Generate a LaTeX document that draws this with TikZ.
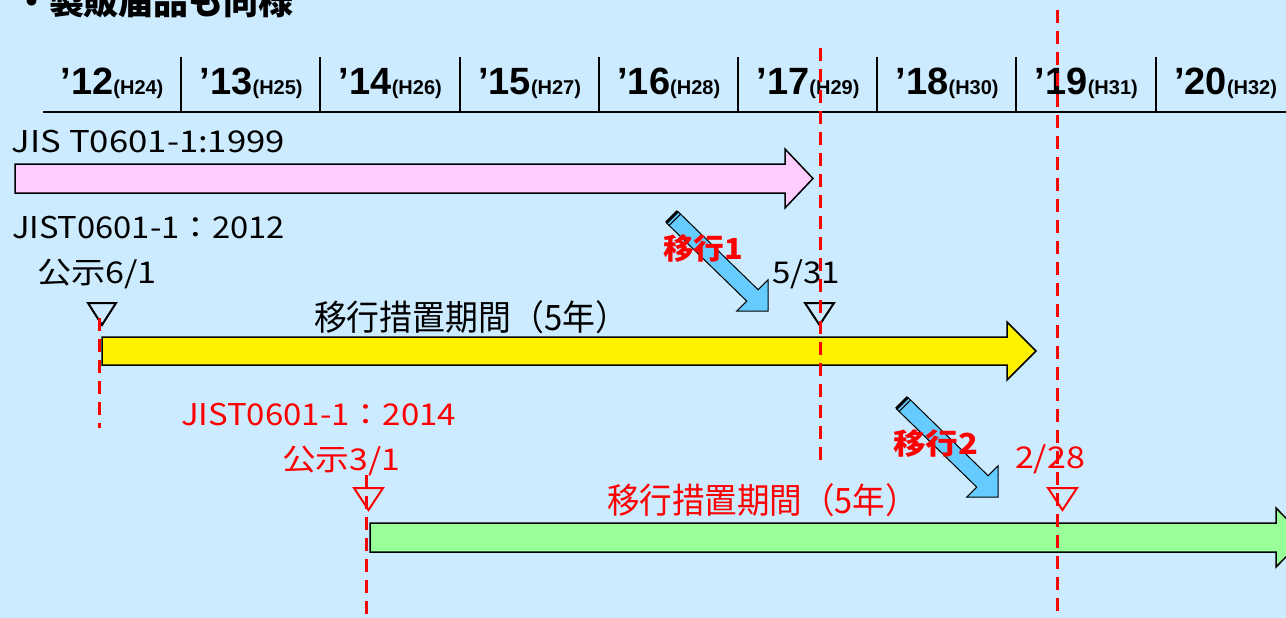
\documentclass[tikz,border=0pt]{standalone}
\usepackage{fontspec}
\usepackage{graphicx}
\setmainfont{Liberation Sans}
\newfontfamily\jp{Noto Sans CJK JP}
\usetikzlibrary{calc}
\definecolor{bgblue}{RGB}{204,235,255}
\definecolor{pinkfill}{RGB}{255,204,255}
\definecolor{greenfill}{RGB}{153,255,153}
\definecolor{arrowblue}{RGB}{102,204,255}
\definecolor{redtxt}{RGB}{255,0,0}
\newcommand{\fitw}[2]{\resizebox{#1}{\height}{#2}}
\newcommand{\fs}[1]{\fontsize{#1}{#1}\selectfont}
\tikzset{
  lbl/.style={inner sep=0pt, outer sep=0pt, anchor=base west},
  bar/.style={draw=black, line width=1.5pt, line join=miter},
  rdash/.style={draw=redtxt, line width=3pt, dash pattern=on 13pt off 8pt},
  tri/.style={line width=2pt, line join=miter},
  hdr/.style={line width=2pt},
  migarrow/.pic={
    \path[draw=black, line width=1pt, fill=arrowblue, line join=miter]
      (5.7,-5.7) -- (86.1,72.7) -- (96,62.8) -- (96,94) -- (64.8,94)
      -- (74.7,84.1) -- (-5.7,5.7) -- cycle;
    \draw[line width=3pt] (5.7,-5.7) -- (-5.7,5.7);
    \draw[line width=1pt] (8.5,-2.9) -- (-2.9,8.5);
  }
}
\begin{document}
\begin{tikzpicture}[x=1pt, y=-1pt]
\fill[bgblue] (0,0) rectangle (1286,618);
\begin{scope}
\clip (0,0) rectangle (1286,618);
% title (cut at top)
\node[lbl] (title) at (14,14.5) {\jp\bfseries\fs{35}・製販届品も同様};
% header
\draw[hdr] (43,112) -- (1290,112);
\foreach \i in {1,...,8} {
  \coordinate (sepT\i) at ({42+139.2*\i},57);
  \coordinate (sepB\i) at ({42+139.2*\i},112);
  \draw[hdr] (sepT\i) -- (sepB\i);
}
\foreach \i in {0,...,8} {
  \pgfmathtruncatemacro\yr{12+\i}
  \pgfmathtruncatemacro\hs{24+\i}
  \node[inner sep=0pt, anchor=base] (yr\i) at ({112+139.2*\i},95)
    {\bfseries\fs{38}’\yr\fs{20}(H\hs)};
}
% bars
\path[bar, fill=pinkfill] (15,164) -- (785,164) -- (785,149) -- (813,178.5)
  -- (785,208) -- (785,193) -- (15,193) -- cycle;
\path[bar, fill=yellow] (102,337) -- (1007,337) -- (1007,322) -- (1036,351)
  -- (1007,380) -- (1007,365) -- (102,365) -- cycle;
\path[bar, fill=greenfill] (370,523) -- (1276,523) -- (1276,508) -- (1305,537.5)
  -- (1276,567) -- (1276,552) -- (370,552) -- cycle;
% migration arrows
\pic at (672,217) {migarrow};
\pic at (902,403) {migarrow};
% triangles
\draw[tri] (88,303) -- (116,303) -- (102,325) -- cycle;
\draw[tri] (805,303) -- (834,303) -- (819.5,325) -- cycle;
\draw[tri, redtxt] (354,488) -- (383,488) -- (368.5,510) -- cycle;
\draw[tri, redtxt] (1048,488) -- (1077,488) -- (1062.5,510) -- cycle;
% texts
\node[lbl] (std1999) at (12,152) {\fitw{273pt}{\jp\fs{30}JIS T0601-1:1999}};
\node[lbl] (std2012) at (12,238) {\fitw{273pt}{\jp\fs{30}JIST0601-1：2012}};
\node[lbl] (pub1) at (37,283) {\fitw{120pt}{\jp\fs{30}公示6/1}};
\node[lbl] (end1) at (772,283) {\fitw{68pt}{\jp\fs{30}5/31}};
\node[lbl] (period1) at (314,330) {\fitw{314pt}{\jp\fs{35}移行措置期間（5年）}};
\node[lbl, text=redtxt] (mig1) at (663,259.5) {\fitw{80pt}{\jp\bfseries\fs{29}移行1}};
\node[lbl, text=redtxt] (std2014) at (181,425) {\fitw{275pt}{\jp\fs{30}JIST0601-1：2014}};
\node[lbl, text=redtxt] (pub2) at (282,470) {\fitw{118pt}{\jp\fs{30}公示3/1}};
\node[lbl, text=redtxt] (mig2) at (893,454) {\fitw{85pt}{\jp\bfseries\fs{29}移行2}};
\node[lbl, text=redtxt] (end2) at (1015,468) {\fitw{70pt}{\jp\fs{30}2/28}};
\node[lbl, text=redtxt] (period2) at (607,513) {\fitw{311pt}{\jp\fs{35}移行措置期間（5年）}};
% dashed lines
\draw[rdash] (99,318) -- (99,428);
\draw[rdash] (820,48) -- (820,467);
\draw[rdash] (1057,10) -- (1057,625);
\draw[rdash] (366,475) -- (366,625);
\end{scope}
\pgfresetboundingbox
\useasboundingbox (0,0) rectangle (1286,618);
\end{tikzpicture}
\end{document}
